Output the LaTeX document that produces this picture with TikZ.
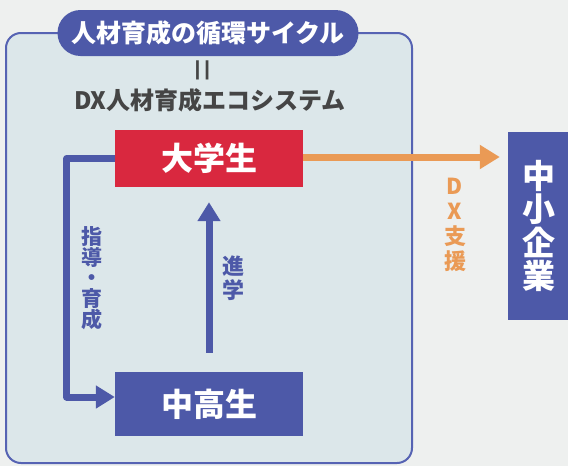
\documentclass[tikz,border=0pt]{standalone}
\usepackage{fontspec}
\setmainfont{Noto Sans CJK JP}
\usetikzlibrary{arrows.meta}

\definecolor{paper}{HTML}{EEF0EF}
\definecolor{framefill}{HTML}{DCE7EA}
\definecolor{frameblue}{HTML}{5663B3}
\definecolor{boxblue}{HTML}{4D59A8}
\definecolor{unired}{HTML}{D9283F}
\definecolor{dxorange}{HTML}{EA9A55}
\definecolor{textgray}{HTML}{454545}

\begin{document}
\begin{tikzpicture}[x=1pt,y=-1pt,line join=round,
    box/.style={rectangle,inner sep=0pt,text=white,
      font=\fontsize{32}{36}\selectfont\bfseries},
    vlabel/.style={inner sep=0pt,align=center,font=\fontsize{21}{21}\selectfont\bfseries},
    bluearrow/.style={boxblue,line width=7pt,-{Triangle[length=19pt,width=22pt]}},
    orangearrow/.style={dxorange,line width=7pt,-{Triangle[length=20pt,width=23pt]}}]
  \useasboundingbox (0,0) rectangle (568,466);
  \fill[paper] (0,0) rectangle (568,466);

  % Frame of the cycle
  \draw[frameblue,line width=2pt,fill=framefill,rounded corners=15pt] (6,33) rectangle (412,463);
  \node[fill=boxblue,rounded corners=23pt,minimum width=301pt,minimum height=46pt,
    text=white,font=\fontsize{25}{28}\selectfont\bfseries] (title) at (208,33) {人材育成の循環サイクル};
  \node[text=textgray,rotate=90,inner sep=0pt,font=\fontsize{40}{40}\selectfont] (equal) at (207,70.5) {=};
  \node[text=textgray,font=\fontsize{24}{28}\selectfont\bfseries] (eco) at (210,100) {DX人材育成エコシステム};

  % Boxes
  \node[box,fill=unired,minimum width=188pt,minimum height=57pt] (univ) at (209,158.5) {大学生};
  \node[box,fill=boxblue,minimum width=188pt,minimum height=64pt] (high) at (209,404) {中高生};
  \node[box,fill=boxblue,minimum width=62pt,minimum height=188pt,align=center,
    font=\fontsize{33}{33.5}\selectfont\bfseries] (sme) at (539,226) {中\\小\\企\\業};

  % Arrows
  \draw[bluearrow] (univ.west) -- ++(-48,0) |- ([yshift=7pt]high.west);
  \draw[bluearrow,shorten <=19pt,shorten >=15pt] (high) -- (univ);
  \draw[orangearrow,shorten >=8pt] ([yshift=1.5pt]univ.east) -- ([yshift=1.5pt]univ.east -| sme.west);

  % Labels
  \node[vlabel,text=boxblue,font=\fontsize{21}{20.6}\selectfont\bfseries] (guide) at (92,278) {指\\導\\・\\育\\成};
  \node[vlabel,text=boxblue,font=\fontsize{22}{24}\selectfont\bfseries] (advance) at (233,278) {進\\学};
  \node[vlabel,text=dxorange,font=\fontsize{22}{25}\selectfont\bfseries] (support) at (455,225) {D\\X\\支\\援};
\end{tikzpicture}
\end{document}
